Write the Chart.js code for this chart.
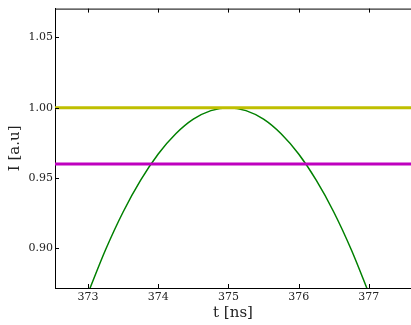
<!DOCTYPE html>
<html>
<head>
<meta charset="UTF-8">
<script src="https://cdn.jsdelivr.net/npm/chart.js"></script>
<style>
  html, body { margin: 0; padding: 0; background: #fff; }
  #wrap { width: 411px; height: 325px; }
</style>
</head>
<body>
<div id="wrap"><canvas id="c"></canvas></div>
<script>
// data
const tPoints = [373, 373.25, 373.5, 373.75, 374, 374.25, 374.5, 374.75, 375,
                 375.25, 375.5, 375.75, 376, 376.25, 376.5, 376.75, 377];
const intensity = [0.868, 0.8989, 0.9258, 0.9484, 0.967, 0.9814, 0.9918, 0.9979, 1.0,
                   0.9979, 0.9918, 0.9814, 0.967, 0.9484, 0.9258, 0.8989, 0.868];
const maxLevel = 1.0;
const threshold = 0.96;
const xTicks = [373, 374, 375, 376, 377];
const yTicks = [0.90, 0.95, 1.00, 1.05];
const xRange = [372.53, 377.6];
const yRange = [0.8717, 1.0705];

const serif = "'DejaVu Serif', serif";

// inward ticks on all sides + top frame line
const frame = {
  id: 'frame',
  afterDraw(chart) {
    const { ctx, chartArea: a, scales } = chart;
    ctx.save();
    ctx.strokeStyle = '#000';
    ctx.lineWidth = 1;
    ctx.beginPath();
    ctx.moveTo(a.left, a.top + 0.5);
    ctx.lineTo(a.right, a.top + 0.5);
    xTicks.forEach(v => {
      const px = Math.round(scales.x.getPixelForValue(v)) + 0.5;
      ctx.moveTo(px, a.bottom); ctx.lineTo(px, a.bottom - 4);
      ctx.moveTo(px, a.top); ctx.lineTo(px, a.top + 4);
    });
    yTicks.forEach(v => {
      const py = Math.round(scales.y.getPixelForValue(v)) + 0.5;
      ctx.moveTo(a.left, py); ctx.lineTo(a.left + 4, py);
    });
    ctx.stroke();
    ctx.restore();
  }
};

new Chart(document.getElementById('c'), {
  type: 'line',
  data: {
    datasets: [
      {
        data: xRange.map(x => ({ x: x, y: maxLevel })),
        borderColor: '#bfbf00', borderWidth: 3, pointRadius: 0
      },
      {
        data: xRange.map(x => ({ x: x, y: threshold })),
        borderColor: '#bf00bf', borderWidth: 3, pointRadius: 0
      },
      {
        data: tPoints.map((t, i) => ({ x: t, y: intensity[i] })),
        borderColor: '#008000', borderWidth: 1.5, pointRadius: 0,
        cubicInterpolationMode: 'monotone'
      }
    ]
  },
  options: {
    responsive: true,
    maintainAspectRatio: false,
    animation: false,
    layout: { padding: { top: 7, right: 0, left: 6, bottom: 0 } },
    plugins: { legend: { display: false }, tooltip: { enabled: false } },
    scales: {
      x: {
        type: 'linear', min: xRange[0], max: xRange[1],
        afterBuildTicks: s => { s.ticks = xTicks.map(v => ({ value: v })); },
        afterFit: s => { s.height = 37; },
        grid: { display: false, drawTicks: false },
        border: { display: true, color: '#000', width: 1 },
        ticks: { color: '#222', font: { family: serif, size: 11 }, padding: 3, maxRotation: 0 },
        title: { display: true, text: 't [ns]', color: '#222', font: { family: serif, size: 15 },
                 padding: { top: 0, bottom: 3 } }
      },
      y: {
        min: yRange[0], max: yRange[1],
        afterBuildTicks: s => { s.ticks = yTicks.map(v => ({ value: v })); },
        afterFit: s => { s.width = 49; },
        grid: { display: false, drawTicks: false },
        border: { display: true, color: '#000', width: 1 },
        ticks: { color: '#222', font: { family: serif, size: 11 }, padding: 2,
                 callback: v => v.toFixed(2) },
        title: { display: true, text: 'I [a.u]', color: '#222', font: { family: serif, size: 15 }, padding: 0 }
      }
    }
  },
  plugins: [frame]
});
</script>
</body>
</html>
